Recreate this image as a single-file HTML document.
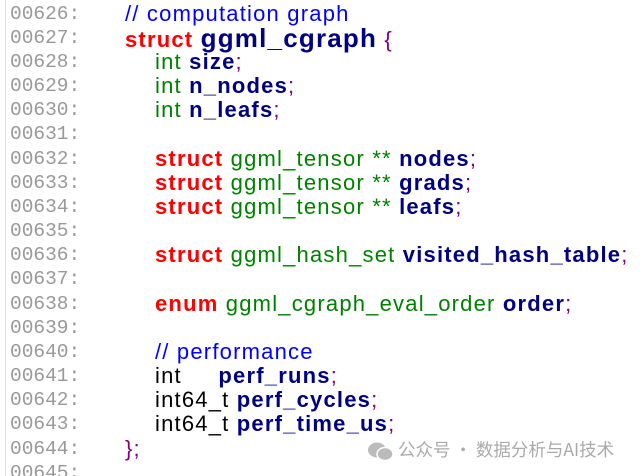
<!DOCTYPE html>
<html><head><meta charset="utf-8"><style>
html,body{margin:0;padding:0;background:#fff;width:644px;height:476px;overflow:hidden;position:relative}
.b{position:absolute;left:5px;top:0;width:1px;height:476px;background:#ddd}
.l{position:absolute;left:0;height:24px;line-height:24px;white-space:pre;font-family:"Liberation Sans",sans-serif;font-size:22px}
.n{position:absolute;left:10px;font-family:"Liberation Mono",monospace;font-size:19.5px;color:#999;letter-spacing:0}
.c{position:absolute;letter-spacing:1.2px}
.r{color:#f00;font-weight:bold}.g{color:#008000}.v{color:#000080;font-weight:bold}.p{color:#800080}.k{color:#00f}
.wm{position:absolute;left:398px;top:437px;font-family:"Noto Sans CJK SC",sans-serif;font-size:17.5px;color:#aaa;white-space:pre}
.ic{position:absolute;left:368px;top:442px}
</style></head><body>
<div class="b"></div>
<div class="l" style="top:2px"><span class="n">00626:</span><span class="c k" style="left:125px">// computation graph</span></div>
<div class="l" style="top:26px"><span class="n">00627:</span><span class="c" style="left:125px"><span class="r">struct</span> <span class="v" style="font-size:26px">ggml_cgraph</span> <span class="p">{</span></span></div>
<div class="l" style="top:50px"><span class="n">00628:</span><span class="c" style="left:155px"><span class="g">int</span> <span class="v">size</span><span class="p">;</span></span></div>
<div class="l" style="top:74px"><span class="n">00629:</span><span class="c" style="left:155px"><span class="g">int</span> <span class="v">n_nodes</span><span class="p">;</span></span></div>
<div class="l" style="top:98px"><span class="n">00630:</span><span class="c" style="left:155px"><span class="g">int</span> <span class="v">n_leafs</span><span class="p">;</span></span></div>
<div class="l" style="top:122px"><span class="n">00631:</span></div>
<div class="l" style="top:147px"><span class="n">00632:</span><span class="c" style="left:155px"><span class="r">struct</span> <span class="g">ggml_tensor **</span> <span class="v">nodes</span><span class="p">;</span></span></div>
<div class="l" style="top:171px"><span class="n">00633:</span><span class="c" style="left:155px"><span class="r">struct</span> <span class="g">ggml_tensor **</span> <span class="v">grads</span><span class="p">;</span></span></div>
<div class="l" style="top:195px"><span class="n">00634:</span><span class="c" style="left:155px"><span class="r">struct</span> <span class="g">ggml_tensor **</span> <span class="v">leafs</span><span class="p">;</span></span></div>
<div class="l" style="top:219px"><span class="n">00635:</span></div>
<div class="l" style="top:243px"><span class="n">00636:</span><span class="c" style="left:155px"><span class="r">struct</span> <span class="g">ggml_hash_set</span> <span class="v">visited_hash_table</span><span class="p">;</span></span></div>
<div class="l" style="top:267px"><span class="n">00637:</span></div>
<div class="l" style="top:292px"><span class="n">00638:</span><span class="c" style="left:155px"><span class="r">enum</span> <span class="g">ggml_cgraph_eval_order</span> <span class="v">order</span><span class="p">;</span></span></div>
<div class="l" style="top:316px"><span class="n">00639:</span></div>
<div class="l" style="top:340px"><span class="n">00640:</span><span class="c k" style="left:155px">// performance</span></div>
<div class="l" style="top:364px"><span class="n">00641:</span><span class="c" style="left:155px">int     <span class="v">perf_runs</span><span class="p">;</span></span></div>
<div class="l" style="top:388px"><span class="n">00642:</span><span class="c" style="left:155px">int64_t <span class="v">perf_cycles</span><span class="p">;</span></span></div>
<div class="l" style="top:412px"><span class="n">00643:</span><span class="c" style="left:155px">int64_t <span class="v">perf_time_us</span><span class="p">;</span></span></div>
<div class="l" style="top:437px"><span class="n">00644:</span><span class="c p" style="left:125px">};</span></div>
<div class="l" style="top:461px"><span class="n">00645:</span></div>
<svg class="ic" width="26" height="20"><ellipse cx="9" cy="8" rx="9" ry="7.5" fill="#bbb"/><ellipse cx="17" cy="12" rx="8" ry="6.5" fill="#bbb" stroke="#fff" stroke-width="1.5"/></svg>
<div class="wm">公众号 · 数据分析与AI技术</div>
</body></html>
